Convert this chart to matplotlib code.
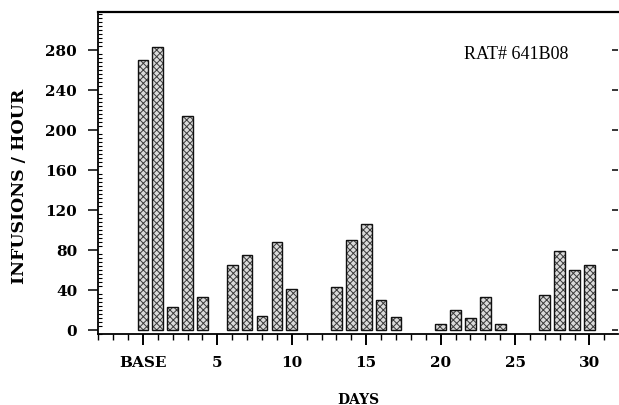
import matplotlib.pyplot as plt
from matplotlib.ticker import MultipleLocator, FixedLocator

# infusions per hour
days = [0, 1, 2, 3, 4, 6, 7, 8, 9, 10, 13, 14, 15, 16, 17, 20, 21, 22, 23, 24, 27, 28, 29, 30]
infusions = [270, 283, 23, 214, 33, 65, 75, 14, 88, 41, 43, 90, 106, 30, 13,
             6, 20, 12, 33, 6, 35, 79, 60, 65]
xtick_pos = [0, 5, 10, 15, 20, 25, 30]
xtick_labels = ['BASE', '5', '10', '15', '20', '25', '30']
ytick_pos = [0, 40, 80, 120, 160, 200, 240, 280]

plt.rcParams['hatch.linewidth'] = 0.7
lab_font = dict(family='DejaVu Serif', weight='bold')

fig = plt.figure(figsize=(6.19, 4.06), dpi=100)
ax = fig.add_axes([0.1583, 0.175, 0.8397, 0.793])

# stipple fill, then a black outline on top
ax.bar(days, infusions, width=0.72, color='#dadada', edgecolor='#3a3a3a',
       hatch='xxxxx', linewidth=0)
ax.bar(days, infusions, width=0.72, fill=False, edgecolor='#111111', linewidth=1.0)

ax.set_xlim(-3.02, 31.9)
ax.set_ylim(-4, 318)

ax.spines['right'].set_visible(False)
for s in ['left', 'bottom']:
    ax.spines[s].set_linewidth(1.3)
ax.spines['top'].set_linewidth(1.6)

ax.xaxis.set_major_locator(FixedLocator(xtick_pos))
ax.xaxis.set_minor_locator(MultipleLocator(1))
ax.set_xticklabels(xtick_labels, fontsize=11, **lab_font)
ax.tick_params(axis='x', which='major', direction='out', length=8, width=1.4, pad=7)
ax.tick_params(axis='x', which='minor', direction='out', length=4, width=1.0)

ax.yaxis.set_major_locator(FixedLocator(ytick_pos))
ax.yaxis.set_minor_locator(MultipleLocator(4))
ax.set_yticklabels([str(v) for v in ytick_pos], fontsize=11, **lab_font)
ax.tick_params(axis='y', which='major', direction='out', length=7, width=1.1,
               pad=8, right=True, labelright=False)
ax.tick_params(axis='y', which='minor', direction='in', length=3, width=0.8)
# right side: short marks only at the major positions
for t in ax.yaxis.get_major_ticks():
    t.tick2line.set_marker(0)
    t.tick2line.set_markersize(4)
for t in ax.yaxis.get_minor_ticks():
    t.tick2line.set_visible(False)

ax.set_xlabel('DAYS', fontsize=10, labelpad=17, **lab_font)
ax.set_ylabel('INFUSIONS / HOUR', fontsize=12.5, **lab_font)
ax.yaxis.set_label_coords(-0.135, 0.463)

ax.text(0.905, 0.87, 'RAT# 641B08', transform=ax.transAxes, ha='right', va='center',
        fontsize=13, family='Liberation Serif')

fig.savefig('out.png', dpi=100)
